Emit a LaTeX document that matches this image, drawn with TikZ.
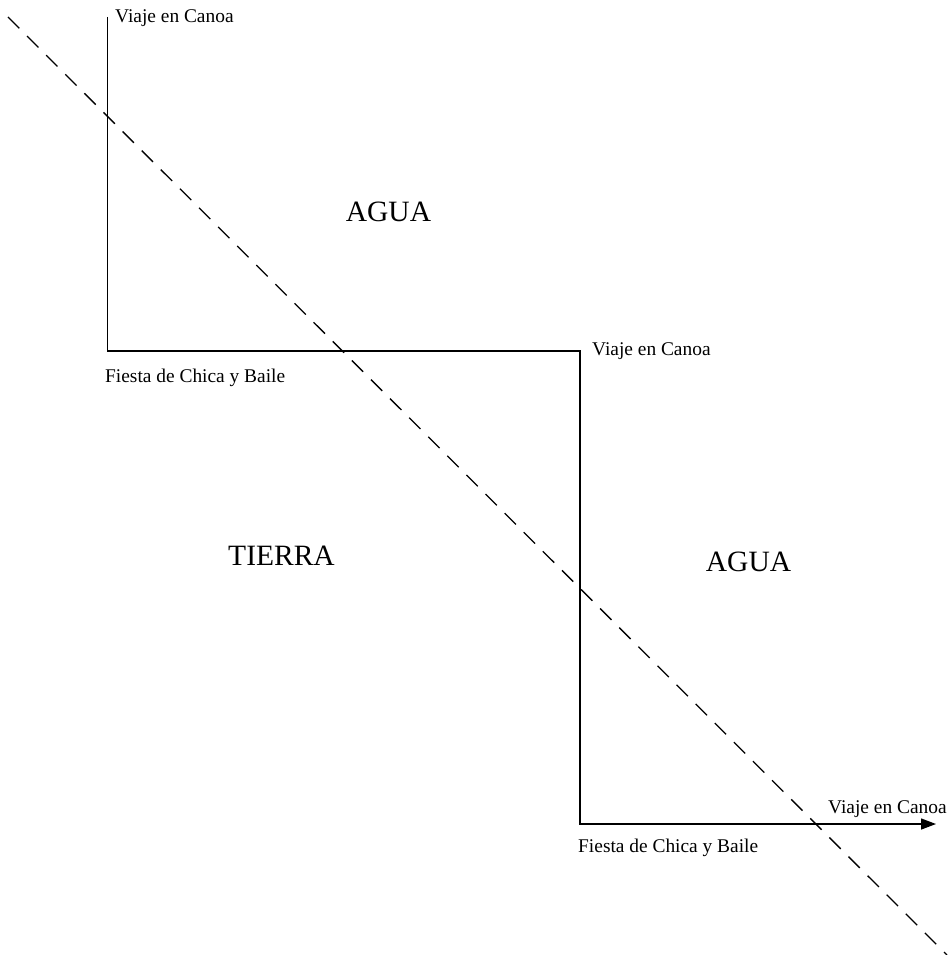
\documentclass[tikz,border=0pt]{standalone}
\usepackage{fontspec}
\setmainfont{Liberation Serif}
\usetikzlibrary{arrows.meta}
\tikzset{
  small/.style={font=\fontsize{19.4}{22}\selectfont, inner sep=0pt, anchor=base west},
  big/.style={font=\fontsize{29.5}{33}\selectfont, inner sep=0pt, anchor=base},
  route/.style={line width=1.4pt, line join=miter},
  divider/.style={line width=1.3pt, dash pattern=on 16pt off 11pt},
}
\begin{document}
\begin{tikzpicture}[x=1pt,y=-1pt]
\useasboundingbox (0,0) rectangle (948,955);
\coordinate (p0) at (107.5,17);
\coordinate (p1) at (107.5,351);
\coordinate (p2) at (580,351);
\coordinate (p3) at (580,824);
\coordinate (p4) at (936,824);
\coordinate (d0) at (8,17);
\coordinate (d1) at (947,955);
\draw[divider] (d0) -- (d1);
\draw[route, -{Triangle[length=15pt,width=11pt]}] (p0) -- (p1) -- (p2) -- (p3) -- (p4);
\node[small] (t1) at (115,23) {Viaje en Canoa};
\node[small] (t2) at (105,382) {Fiesta de Chica y Baile};
\node[small] (t3) at (592,355) {Viaje en Canoa};
\node[small] (t4) at (828,813) {Viaje en Canoa};
\node[small] (t5) at (578,852) {Fiesta de Chica y Baile};
\node[big] (a1) at (388.5,221) {AGUA};
\node[big] (tierra) at (281.5,565) {TIERRA};
\node[big] (a2) at (748.5,571) {AGUA};
\end{tikzpicture}
\end{document}
